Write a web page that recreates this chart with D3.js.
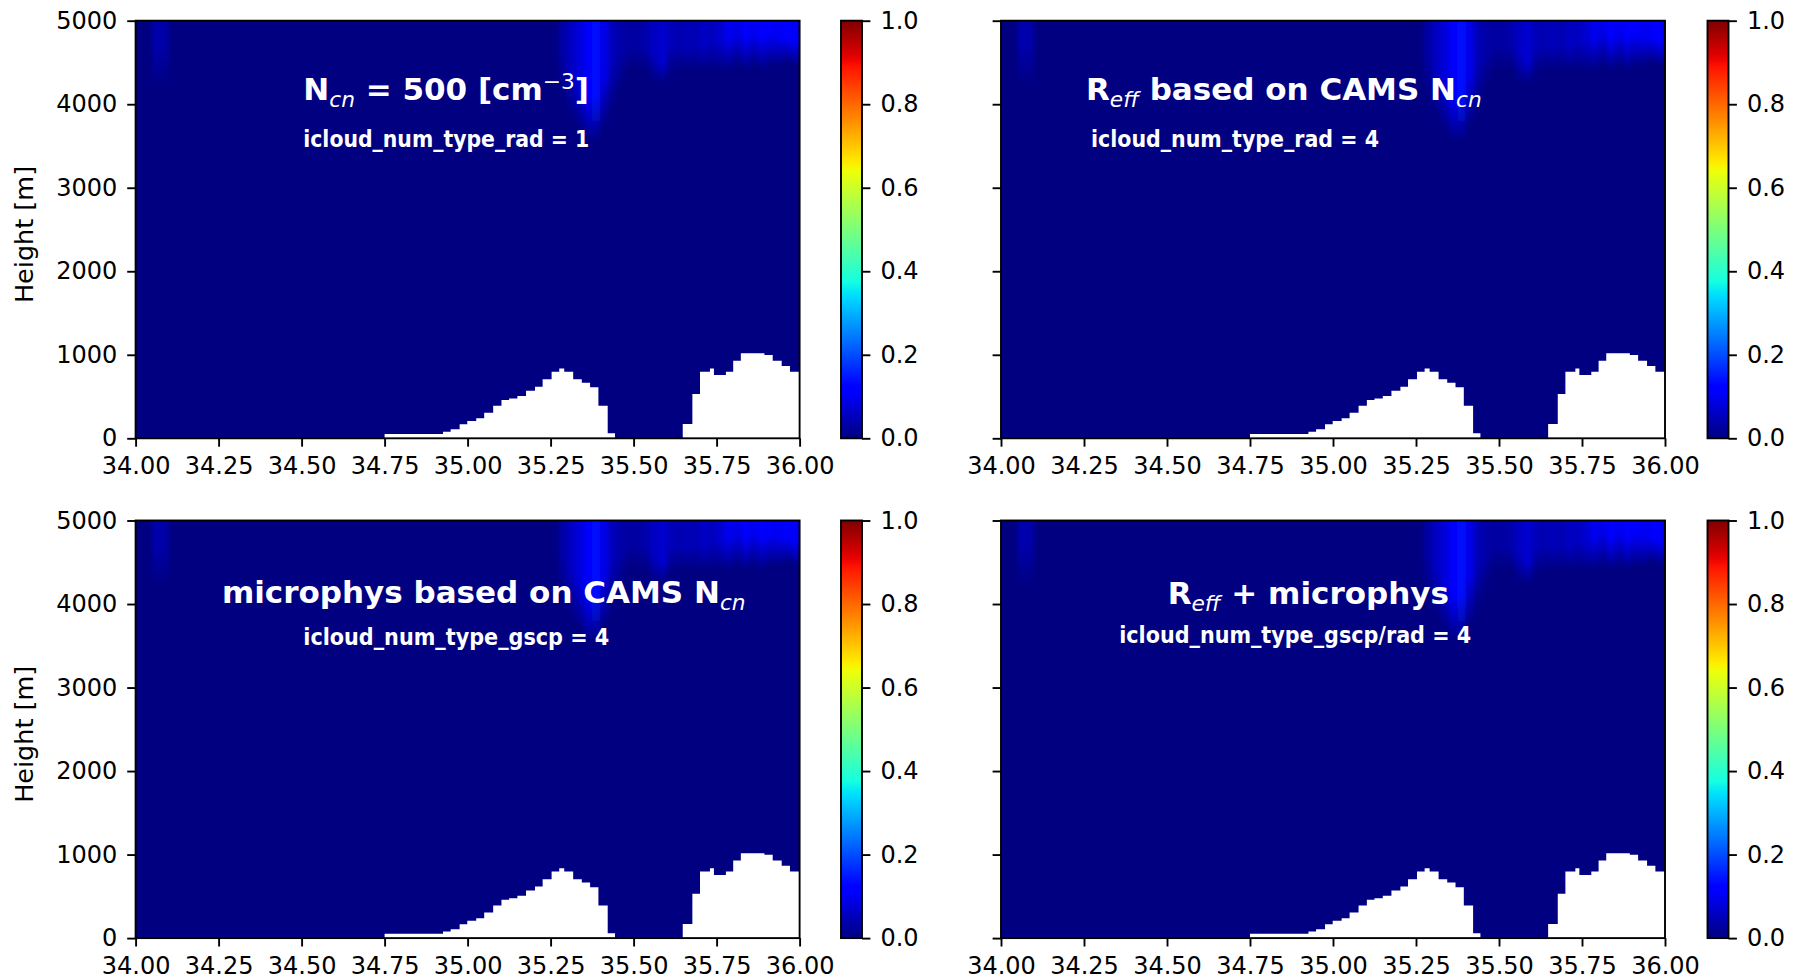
<!DOCTYPE html>
<html>
<head>
<meta charset="utf-8">
<script src="https://cdn.jsdelivr.net/npm/d3@7"></script>
<style>
  body { margin: 0; background: #fff; }
  text { font-family: "DejaVu Sans", sans-serif; }
</style>
</head>
<body>
<svg id="fig" width="1802" height="979"></svg>
<script>
// ---- data ----
const lonTicks = [34.00, 34.25, 34.50, 34.75, 35.00, 35.25, 35.50, 35.75, 36.00];
const heightTicks = [0, 1000, 2000, 3000, 4000, 5000];
const colorTicks = [0.0, 0.2, 0.4, 0.6, 0.8, 1.0];

// terrain (white mask), step starts in degrees and heights in m
const terrainLon = [34.750, 34.926, 34.949, 34.976, 34.999, 35.026, 35.050, 35.077, 35.102, 35.125,
  35.150, 35.176, 35.203, 35.226, 35.253, 35.276, 35.291, 35.318, 35.344, 35.369, 35.394, 35.422,
  35.444, 35.648, 35.677, 35.700, 35.730, 35.742, 35.778, 35.800, 35.823, 35.894, 35.919, 35.946,
  35.971, 36.000];
const terrainHeight = [51, 79, 107, 167, 207, 239, 307, 391, 458, 478,
  506, 570, 618, 706, 797, 837, 797, 706, 666, 610, 391, 59,
  0, 170, 531, 797, 837, 757, 797, 929, 1017, 997, 929, 865,
  797, 797];

// cloud fraction columns near the model top (0.025 deg wide)
const cloudLon = [34.050, 34.075, 35.275, 35.300, 35.325, 35.350, 35.375, 35.400, 35.425, 35.450,
  35.475, 35.500, 35.525, 35.550, 35.575, 35.600, 35.625, 35.650, 35.675, 35.700, 35.725, 35.750,
  35.775, 35.800, 35.825, 35.850, 35.875, 35.900, 35.925, 35.950, 35.975];
const cloudTop = [0.04, 0.035, 0.035, 0.06, 0.08, 0.13, 0.14, 0.09, 0.05, 0.035,
  0.03, 0.03, 0.04, 0.06, 0.07, 0.05, 0.045, 0.05, 0.045, 0.06, 0.055, 0.07,
  0.10, 0.09, 0.11, 0.10, 0.12, 0.11, 0.10, 0.11, 0.12];
const cloudHold = [4700, 4700, 4600, 4400, 4250, 4100, 4100, 4350, 4500, 4600,
  4700, 4700, 4700, 4600, 4500, 4700, 4700, 4700, 4700, 4700, 4750, 4750,
  4800, 4850, 4800, 4850, 4800, 4850, 4800, 4800, 4750];
const cloudBase = [4200, 4200, 4050, 3850, 3700, 3550, 3550, 3750, 3950, 4200,
  4400, 4400, 4400, 4250, 4250, 4350, 4400, 4400, 4400, 4400, 4400, 4400,
  4400, 4450, 4400, 4450, 4400, 4450, 4450, 4500, 4450];

const panelTitles = [
  [["N", ""], ["cn", "sub"], [" = 500 [cm", ""], ["\u22123", "sup"], ["]", ""]],
  [["R", ""], ["eff", "sub"], [" based on CAMS N", ""], ["cn", "sub"]],
  [["microphys based on CAMS N", ""], ["cn", "sub"]],
  [["R", ""], ["eff", "sub"], [" + microphys", ""]]
];
const panelLabels = [
  "icloud_num_type_rad = 1",
  "icloud_num_type_rad = 4",
  "icloud_num_type_gscp = 4",
  "icloud_num_type_gscp/rad = 4"
];

// ---- layout ----
const plotW = 664, plotH = 417.6;
const layout = [
  { x: 135.6, y: 20.7, cb: 841, yLabels: true, tx: 34.505, ty: 4050, sx: 34.505, sy: 3490, sw: 286 },
  { x: 1001, y: 20.7, cb: 1707.5, yLabels: false, tx: 34.256, ty: 4050, sx: 34.271, sy: 3490, sw: 288 },
  { x: 135.6, y: 520.5, cb: 841, yLabels: true, tx: 34.26, ty: 4012, sx: 34.505, sy: 3510, sw: 306 },
  { x: 1001, y: 520.5, cb: 1707.5, yLabels: false, tx: 34.502, ty: 4000, sx: 34.356, sy: 3530, sw: 352 }
];
const cbW = 21;
const tickLen = 8.4, lineW = 1.9, fontSize = 24;

// matplotlib jet
const jetR = d3.scaleLinear([0, 0.35, 0.66, 0.89, 1], [0, 0, 1, 1, 0.5]).clamp(true);
const jetG = d3.scaleLinear([0, 0.125, 0.375, 0.64, 0.91, 1], [0, 0, 1, 1, 0, 0]).clamp(true);
const jetB = d3.scaleLinear([0, 0.11, 0.34, 0.65, 1], [0.5, 1, 1, 0, 0]).clamp(true);
const jet = v => d3.rgb(255 * jetR(v), 255 * jetG(v), 255 * jetB(v)).formatHex();

const x = d3.scaleLinear([34, 36], [0, plotW]);
const y = d3.scaleLinear([0, 5000], [plotH, 0]);
const cbY = d3.scaleLinear([0, 1], [plotH, 0]);

const svg = d3.select("#fig");
const defs = svg.append("defs");

defs.append("clipPath").attr("id", "plotClip")
  .append("rect").attr("width", plotW).attr("height", plotH);

defs.append("filter").attr("id", "smear")
  .attr("x", "-5%").attr("y", "-5%").attr("width", "110%").attr("height", "110%")
  .append("feGaussianBlur").attr("stdDeviation", "2 0");

// colorbar gradient
const cbGrad = defs.append("linearGradient").attr("id", "jetBar")
  .attr("x1", 0).attr("y1", 1).attr("x2", 0).attr("y2", 0);
d3.range(0, 65).forEach(i => {
  cbGrad.append("stop").attr("offset", i / 64).attr("stop-color", jet(i / 64));
});

// one vertical gradient per cloud column
cloudLon.forEach((lon, i) => {
  const g = defs.append("linearGradient").attr("id", "cl" + i)
    .attr("gradientUnits", "userSpaceOnUse")
    .attr("x1", 0).attr("x2", 0).attr("y1", y(5000)).attr("y2", y(cloudBase[i]));
  const hold = (5000 - cloudHold[i]) / (5000 - cloudBase[i]);
  g.append("stop").attr("offset", 0).attr("stop-color", jet(cloudTop[i]));
  g.append("stop").attr("offset", hold).attr("stop-color", jet(cloudTop[i]));
  g.append("stop").attr("offset", 1).attr("stop-color", jet(0));
});

const terrain = terrainLon.map((lon, i) => ({ lon, h: terrainHeight[i] }));
const terrainArea = d3.area()
  .x(d => x(d.lon))
  .y0(y(0))
  .y1(d => y(d.h))
  .curve(d3.curveStepAfter);

const styleAxis = (g) => {
  g.select(".domain").remove();
  g.selectAll(".tick line").attr("stroke", "#000").attr("stroke-width", lineW);
  g.selectAll(".tick text").attr("fill", "#000").attr("font-size", fontSize)
    .attr("font-family", "DejaVu Sans");
};

layout.forEach((p, k) => {
  const panel = svg.append("g").attr("transform", `translate(${p.x},${p.y})`);

  const inner = panel.append("g").attr("clip-path", "url(#plotClip)");
  inner.append("rect").attr("width", plotW).attr("height", plotH).attr("fill", jet(0));
  inner.append("g").attr("filter", "url(#smear)")
    .selectAll("rect")
    .data(cloudLon)
    .join("rect")
    .attr("x", d => x(d))
    .attr("width", d => x(d + 0.025) - x(d))
    .attr("y", y(5000))
    .attr("height", (d, i) => y(cloudBase[i]) - y(5000))
    .attr("fill", (d, i) => `url(#cl${i})`);
  inner.append("path").datum(terrain).attr("d", terrainArea).attr("fill", "#fff");

  panel.append("rect").attr("width", plotW).attr("height", plotH)
    .attr("fill", "none").attr("stroke", "#000").attr("stroke-width", lineW);

  panel.append("g").attr("transform", `translate(0,${plotH})`)
    .call(d3.axisBottom(x).tickValues(lonTicks).tickFormat(d3.format(".2f"))
      .tickSize(tickLen).tickPadding(10))
    .call(styleAxis);

  panel.append("g")
    .call(d3.axisLeft(y).tickValues(heightTicks)
      .tickFormat(p.yLabels ? d3.format("d") : () => "")
      .tickSize(tickLen).tickPadding(10))
    .call(styleAxis);

  if (p.yLabels) {
    panel.append("text")
      .attr("transform", `translate(${33 - p.x},${plotH / 2 + 5}) rotate(-90)`)
      .attr("text-anchor", "middle")
      .attr("font-size", 25.5)
      .attr("fill", "#000")
      .text("Height [m]");
  }

  // title with math-like sub/superscripts
  const title = panel.append("text")
    .attr("x", x(p.tx)).attr("y", y(p.ty))
    .attr("fill", "#fff").attr("font-size", 31).attr("font-weight", "bold");
  let shift = 0;
  panelTitles[k].forEach(([txt, kind]) => {
    const want = kind === "sub" ? 7 : kind === "sup" ? -11 : 0;
    const ts = title.append("tspan").attr("dy", want - shift).text(txt);
    shift = want;
    if (kind) ts.attr("font-size", 31 * 0.7).attr("font-weight", "normal");
    if (kind === "sub") ts.attr("font-style", "italic");
  });

  panel.append("text")
    .attr("x", x(p.sx)).attr("y", y(p.sy))
    .attr("fill", "#fff")
    .attr("font-family", "Liberation Sans, Arial, sans-serif")
    .attr("font-weight", "bold")
    .attr("font-size", 23)
    .attr("textLength", p.sw)
    .attr("lengthAdjust", "spacingAndGlyphs")
    .text(panelLabels[k]);

  // colorbar
  const cb = svg.append("g").attr("transform", `translate(${p.cb},${p.y})`);
  cb.append("rect").attr("width", cbW).attr("height", plotH).attr("fill", "url(#jetBar)")
    .attr("stroke", "#000").attr("stroke-width", lineW);
  cb.append("g").attr("transform", `translate(${cbW},0)`)
    .call(d3.axisRight(cbY).tickValues(colorTicks).tickFormat(d3.format(".1f"))
      .tickSize(tickLen).tickPadding(10))
    .call(styleAxis);
});
</script>
</body>
</html>
